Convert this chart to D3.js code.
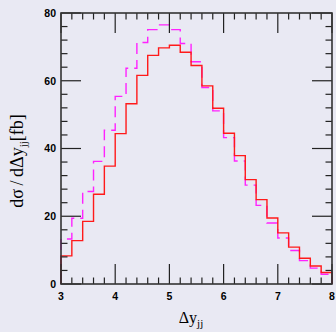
<!DOCTYPE html>
<html><head><meta charset="utf-8">
<script src="https://cdn.jsdelivr.net/npm/d3@7"></script>
<style>
html,body{margin:0;padding:0;background:#e9e9f3;}
svg{display:block;}
</style></head>
<body>
<script>
const binEdges = [3.0,3.2,3.4,3.6,3.8,4.0,4.2,4.4,4.6,4.8,5.0,5.2,5.4,5.6,5.8,6.0,6.2,6.4,6.6,6.8,7.0,7.2,7.4,7.6,7.8,8.0];
const solidRed = [8.3,12.8,18.5,26.5,34.8,44.4,53.2,61.6,67.5,69.7,70.5,68.4,64.5,58.5,51.9,44.5,37.9,30.8,24.9,19.5,15.1,10.9,7.6,5.3,3.4];
const dashedMagenta = [13.3,19.4,27.3,36.2,45.4,55.4,63.7,71.3,75.1,76.5,75.1,71.0,65.6,58.0,51.1,43.2,36.3,29.2,23.2,18.0,13.6,9.9,6.9,4.7,2.9];
const xTicks = [3,4,5,6,7,8];
const yTicks = [0,20,40,60,80];

const W = 336, H = 332;
const L = 61, R = 332, T = 13, B = 284;

const svg = d3.select("body").append("svg").attr("width", W).attr("height", H);
svg.append("rect").attr("width", W).attr("height", H).attr("fill", "#e9e9f3");

const x = d3.scaleLinear().domain([3, 8]).range([L, R]);
const y = d3.scaleLinear().domain([0, 80]).range([B, T]);

function stepPts(vals) {
  const pts = [[binEdges[0], 0]];
  vals.forEach((v, i) => { pts.push([binEdges[i], v]); pts.push([binEdges[i + 1], v]); });
  pts.push([binEdges[binEdges.length - 1], 0]);
  return pts;
}
const line = d3.line().x(d => x(d[0])).y(d => y(d[1]));

svg.append("path").attr("d", line(stepPts(dashedMagenta)))
  .attr("fill", "none").attr("stroke", "#ff22ff").attr("stroke-width", 1.4)
  .attr("stroke-dasharray", "11,6");
svg.append("path").attr("d", line(stepPts(solidRed)))
  .attr("fill", "none").attr("stroke", "#ff1a1a").attr("stroke-width", 1.4);

// ticks (inward, all sides)
const tickColor = "#222";
const g = svg.append("g").attr("stroke", tickColor).attr("stroke-width", 1.2);
const xMinor = d3.range(3, 8.0001, 0.2);
xMinor.forEach(v => {
  const major = Math.abs(v - Math.round(v)) < 1e-6;
  const len = major ? 20 : 6.5;
  g.append("line").attr("x1", x(v)).attr("x2", x(v)).attr("y1", B).attr("y2", B - len);
  g.append("line").attr("x1", x(v)).attr("x2", x(v)).attr("y1", T).attr("y2", T + len);
});
const yMinor = d3.range(0, 80.0001, 4);
yMinor.forEach(v => {
  const major = Math.abs(v / 20 - Math.round(v / 20)) < 1e-6;
  const len = major ? 20 : 6.5;
  g.append("line").attr("y1", y(v)).attr("y2", y(v)).attr("x1", L).attr("x2", L + len);
  g.append("line").attr("y1", y(v)).attr("y2", y(v)).attr("x1", R).attr("x2", R - len);
});

// frame
svg.append("rect").attr("x", L).attr("y", T).attr("width", R - L).attr("height", B - T)
  .attr("fill", "none").attr("stroke", "#333").attr("stroke-width", 1.6);

// tick labels
const tf = "'Liberation Sans', Arial, sans-serif";
svg.selectAll(".xl").data(xTicks).enter().append("text")
  .attr("x", d => x(d)).attr("y", 299.5).attr("text-anchor", "middle")
  .attr("font-family", tf).attr("font-weight", "bold").attr("font-size", 10.5).attr("fill", "#000")
  .text(d => d);
svg.selectAll(".yl").data(yTicks).enter().append("text")
  .attr("x", 56).attr("y", d => y(d) + 3.8).attr("text-anchor", "end")
  .attr("font-family", tf).attr("font-weight", "bold").attr("font-size", 10.5).attr("fill", "#000")
  .text(d => d);

// axis titles
const sf = "'Liberation Serif', 'Times New Roman', serif";
const xt = svg.append("text").attr("x", 191).attr("y", 323).attr("text-anchor", "middle")
  .attr("font-family", sf).attr("font-size", 16).attr("fill", "#000");
xt.append("tspan").text("Δy");
xt.append("tspan").attr("font-size", 11).attr("dy", 4).text("jj");

const yt = svg.append("text").attr("transform", "translate(23,161) rotate(-90)")
  .attr("text-anchor", "middle").attr("font-family", sf).attr("font-size", 18).attr("fill", "#000");
yt.append("tspan").text("dσ\u2009/\u2009dΔy");
yt.append("tspan").attr("font-size", 11).attr("dy", 4).text("jj");
yt.append("tspan").attr("dy", -4).text("[fb]");
</script>
</body></html>
